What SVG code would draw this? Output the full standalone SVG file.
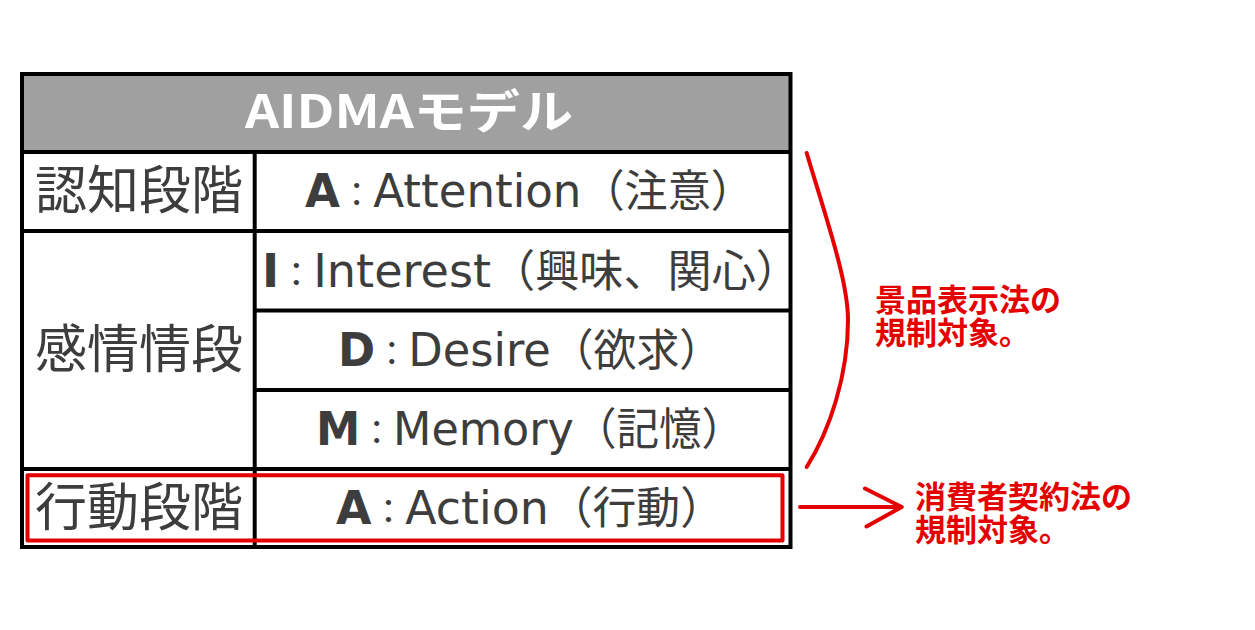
<svg xmlns="http://www.w3.org/2000/svg" width="1255" height="630" viewBox="0 0 1255 630">
<style>
.t{font-family:"Noto Sans CJK JP","Noto Sans",sans-serif;fill:#3d3d3d}
.lab{font-size:52px;text-anchor:middle}
.cell{font-size:44px}
.lat{font-family:"DejaVu Sans","Noto Sans CJK JP",sans-serif;font-size:46px}
.b{font-family:"DejaVu Sans","Noto Sans CJK JP",sans-serif;font-size:46px;font-weight:700}
.col{font-size:34px}
.hdr{font-family:"Noto Sans CJK JP","Noto Sans",sans-serif;font-size:46px;font-weight:700;fill:#ffffff;text-anchor:middle}
.grid{stroke:#000;stroke-width:4;fill:none}
.red{stroke:#e50000;stroke-width:4;fill:none;stroke-linecap:round;stroke-linejoin:round}
.rt{font-family:"Noto Sans CJK JP","Noto Sans",sans-serif;font-size:31px;font-weight:700;fill:#e50000}
</style>
<rect width="1255" height="630" fill="#ffffff"/>
<g id="table">
  <rect x="22" y="74" width="768.5" height="78" fill="#a0a0a0"/>
  <rect class="grid" x="22" y="74" width="768.5" height="473"/>
  <line class="grid" x1="22" y1="152" x2="790.5" y2="152"/>
  <line class="grid" x1="22" y1="231" x2="790.5" y2="231"/>
  <line class="grid" x1="254.7" y1="310.5" x2="790.5" y2="310.5"/>
  <line class="grid" x1="254.7" y1="390" x2="790.5" y2="390"/>
  <line class="grid" x1="22" y1="469" x2="790.5" y2="469"/>
  <line class="grid" x1="254.7" y1="152" x2="254.7" y2="547"/>
</g>
<g id="header">
  <text class="hdr" x="409" y="128" textLength="328" lengthAdjust="spacingAndGlyphs">AIDMAモデル</text>
</g>
<g id="stage-cognitive">
  <text class="t lab" x="139" y="209">認知段階</text>
  <text class="t cell" x="305" y="207" textLength="449" lengthAdjust="spacingAndGlyphs"><tspan class="b">A</tspan><tspan class="col">：</tspan><tspan class="lat">Attention</tspan>（注意）</text>
</g>
<g id="stage-emotional">
  <text class="t lab" x="139" y="368">感情情段</text>
  <text class="t cell" x="262" y="287" textLength="538" lengthAdjust="spacingAndGlyphs"><tspan class="b">I</tspan><tspan class="col">：</tspan><tspan class="lat">Interest</tspan>（興味、関心）</text>
  <text class="t cell" x="338" y="366" textLength="384" lengthAdjust="spacingAndGlyphs"><tspan class="b">D</tspan><tspan class="col">：</tspan><tspan class="lat">Desire</tspan>（欲求）</text>
  <text class="t cell" x="316" y="445" textLength="428" lengthAdjust="spacingAndGlyphs"><tspan class="b">M</tspan><tspan class="col">：</tspan><tspan class="lat">Memory</tspan>（記憶）</text>
</g>
<g id="stage-action">
  <text class="t lab" x="139" y="526">行動段階</text>
  <text class="t cell" x="336" y="524" textLength="388" lengthAdjust="spacingAndGlyphs"><tspan class="b">A</tspan><tspan class="col">：</tspan><tspan class="lat">Action</tspan>（行動）</text>
  <rect class="red" x="27.5" y="475.3" width="755" height="65.2" stroke-linecap="butt" stroke-linejoin="miter"/>
</g>
<g id="connectors">
  <path class="red" d="M806.7,153 C825,215 848,280 848,320 C848,375 830,430 806.7,467"/>
  <line class="red" x1="800" y1="507" x2="901" y2="507"/>
  <polyline class="red" points="865,488.5 901.7,507 866.5,526.5"/>
</g>
<g id="note-keihin">
  <text class="rt" x="875" y="311">景品表示法の<tspan x="875" y="344">規制対象。</tspan></text>
</g>
<g id="note-shohisha">
  <text class="rt" x="915" y="508">消費者契約法の<tspan x="915" y="541">規制対象。</tspan></text>
</g>
</svg>
